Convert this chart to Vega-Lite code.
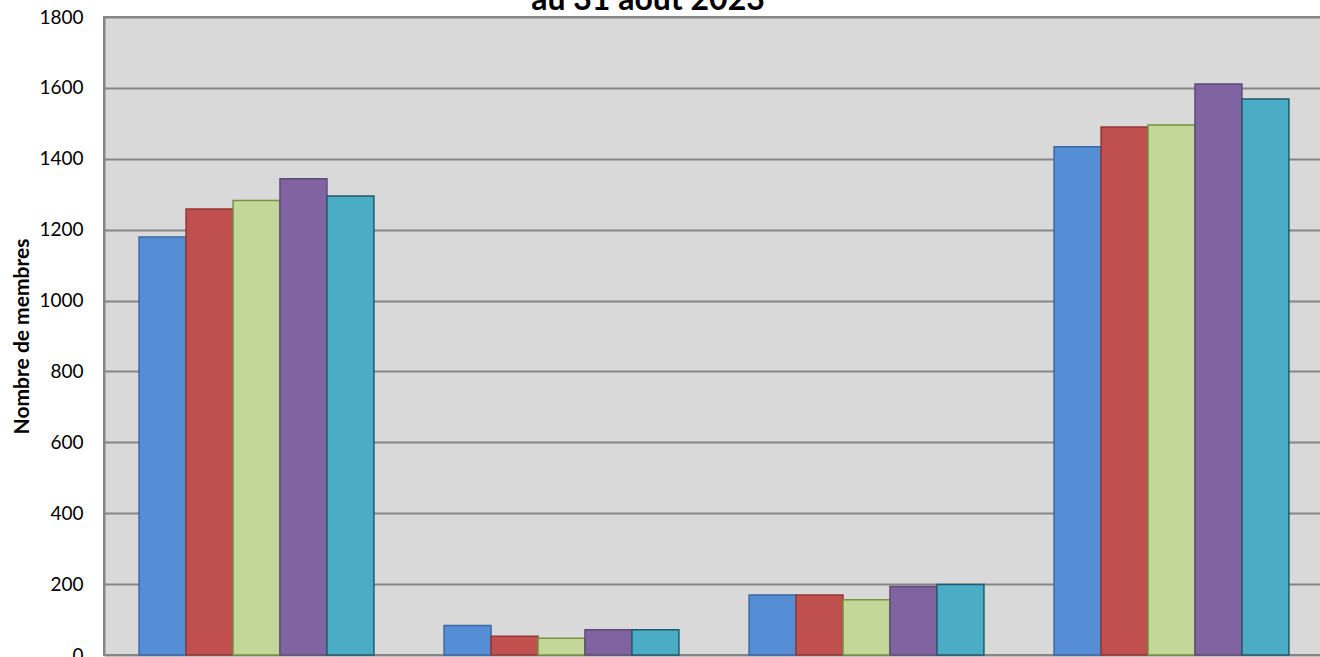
{
  "$schema": "https://vega.github.io/schema/vega-lite/v6.json",
  "autosize": {"type": "none"},
  "width": 1220,
  "height": 638,
  "padding": {"left": 104, "top": 17, "right": 0, "bottom": 2},
  "background": "white",
  "title": {
    "text": "au 31 août 2023",
    "font": "Lato",
    "fontSize": 32,
    "fontWeight": "bold",
    "color": "#000000",
    "anchor": "middle",
    "frame": "group",
    "baseline": "alphabetic",
    "offset": -4,
    "dy": 30,
    "dx": -66
  },
  "config": {
    "view": {"fill": "#d9d9d9", "stroke": "#868686", "strokeWidth": 2},
    "font": "Lato"
  },
  "data": {
    "values": [
      {"groupe": "Groupe 1", "serie": "2019", "membres": 1179},
      {"groupe": "Groupe 1", "serie": "2020", "membres": 1258},
      {"groupe": "Groupe 1", "serie": "2021", "membres": 1282},
      {"groupe": "Groupe 1", "serie": "2022", "membres": 1344},
      {"groupe": "Groupe 1", "serie": "2023", "membres": 1295},
      {"groupe": "Groupe 2", "serie": "2019", "membres": 83},
      {"groupe": "Groupe 2", "serie": "2020", "membres": 53},
      {"groupe": "Groupe 2", "serie": "2021", "membres": 47},
      {"groupe": "Groupe 2", "serie": "2022", "membres": 71},
      {"groupe": "Groupe 2", "serie": "2023", "membres": 71},
      {"groupe": "Groupe 3", "serie": "2019", "membres": 169},
      {"groupe": "Groupe 3", "serie": "2020", "membres": 169},
      {"groupe": "Groupe 3", "serie": "2021", "membres": 156},
      {"groupe": "Groupe 3", "serie": "2022", "membres": 193},
      {"groupe": "Groupe 3", "serie": "2023", "membres": 199},
      {"groupe": "Groupe 4", "serie": "2019", "membres": 1434},
      {"groupe": "Groupe 4", "serie": "2020", "membres": 1490},
      {"groupe": "Groupe 4", "serie": "2021", "membres": 1495},
      {"groupe": "Groupe 4", "serie": "2022", "membres": 1611},
      {"groupe": "Groupe 4", "serie": "2023", "membres": 1569}
    ]
  },
  "mark": {"type": "bar", "strokeWidth": 1.5, "strokeJoin": "miter"},
  "encoding": {
    "x": {
      "field": "groupe",
      "type": "nominal",
      "scale": {"paddingInner": 0.23, "paddingOuter": 0.115},
      "axis": null
    },
    "xOffset": {
      "field": "serie",
      "type": "nominal",
      "scale": {"paddingInner": 0, "paddingOuter": 0}
    },
    "y": {
      "field": "membres",
      "type": "quantitative",
      "scale": {"domain": [0, 1800], "nice": false},
      "axis": {
        "title": "Nombre de membres",
        "titleFont": "Lato",
        "titleFontSize": 21,
        "titleFontWeight": "bold",
        "titleColor": "#000000",
        "titlePadding": 6,
        "format": "d",
        "values": [0, 200, 400, 600, 800, 1000, 1200, 1400, 1600, 1800],
        "labelFont": "Lato",
        "labelFontSize": 19,
        "labelColor": "#000000",
        "labelPadding": 21,
        "ticks": false,
        "domain": true,
        "domainColor": "#868686",
        "domainWidth": 2,
        "grid": true,
        "gridColor": "#868686",
        "gridWidth": 2
      }
    },
    "fill": {
      "field": "serie",
      "type": "nominal",
      "scale": {"range": ["#558ed5", "#c0504d", "#c4d79b", "#8064a2", "#4bacc6"]},
      "legend": null
    },
    "stroke": {
      "field": "serie",
      "type": "nominal",
      "scale": {"range": ["#3a68a6", "#953735", "#77933c", "#5f4a7b", "#215968"]},
      "legend": null
    }
  }
}
